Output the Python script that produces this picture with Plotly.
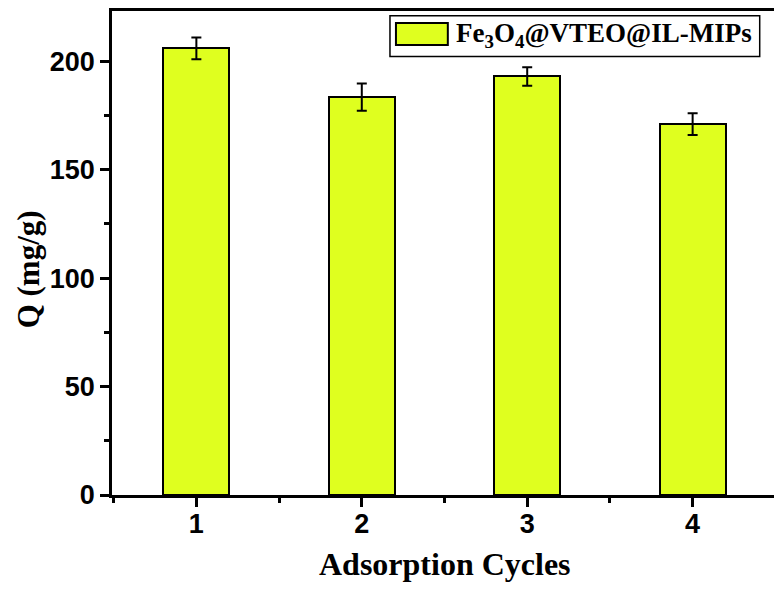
import plotly.graph_objects as go

cycles = [1, 2, 3, 4]
q_values = [206, 183.5, 193, 171]
q_errors = [5, 6.3, 4.3, 5]

legend_name = "Fe<sub>3</sub>O<sub>4</sub>@VTEO@IL-MIPs"
x_title = "Adsorption Cycles"
y_title = "Q (mg/g)"
bar_color = "#DFFF1F"

fig = go.Figure()
fig.add_trace(go.Bar(x=cycles, y=q_values, width=0.4,
                     marker=dict(color=bar_color, line=dict(color="black", width=2)),
                     error_y=dict(type="data", array=q_errors, color="black",
                                  thickness=2, width=5),
                     showlegend=False))

axis_common = dict(showline=True, linecolor="black", linewidth=2.5, mirror=True,
                   ticks="outside", ticklen=9, tickwidth=2.5, tickcolor="black",
                   showgrid=False, zeroline=False,
                   tickfont=dict(family="Liberation Sans", size=27, color="black", weight="bold"))

fig.update_xaxes(range=[0.49, 4.51], tickvals=cycles, ticklabelstandoff=-6,
                 minor=dict(ticks="outside", ticklen=5, tickwidth=2.5, tickcolor="black", dtick=0.5, tick0=0.5),
                 **axis_common)
fig.update_yaxes(range=[0, 223.2], dtick=50,
                 minor=dict(ticks="outside", ticklen=5, tickwidth=2.5, tickcolor="black", dtick=25),
                 **axis_common)

title_font = dict(family="Liberation Serif", size=32, color="black")
fig.add_annotation(text="<b>" + x_title + "</b>", xref="paper", yref="paper", x=0.5, y=-0.142,
                   xanchor="center", yanchor="middle", showarrow=False, font=title_font)
fig.add_annotation(text="<b>" + y_title + "</b>", xref="paper", yref="paper", x=-0.125, y=0.466,
                   xanchor="center", yanchor="middle", showarrow=False, textangle=-90,
                   font=dict(family="Liberation Serif", size=31, color="black"))

# legend box drawn by hand so the swatch is the size of the original
fig.add_shape(type="rect", xref="paper", yref="paper", x0=0.418, x1=0.974, y0=0.906, y1=0.990,
              line=dict(color="black", width=1.5), fillcolor="white")
fig.add_shape(type="rect", xref="paper", yref="paper", x0=0.427, x1=0.505, y0=0.930, y1=0.975,
              line=dict(color="black", width=2), fillcolor=bar_color)
fig.add_annotation(text="<b>" + legend_name + "</b>", xref="paper", yref="paper",
                   x=0.514, y=0.950, xanchor="left", yanchor="middle", showarrow=False,
                   font=dict(family="Liberation Serif", size=27, color="black"))

# page body adds an 8px margin, so the figure is a little smaller than the window
fig.update_layout(width=774, height=581, plot_bgcolor="white", paper_bgcolor="white",
                  margin=dict(l=104, r=5, t=0, b=94), bargap=0)

fig.write_html("out.html")
